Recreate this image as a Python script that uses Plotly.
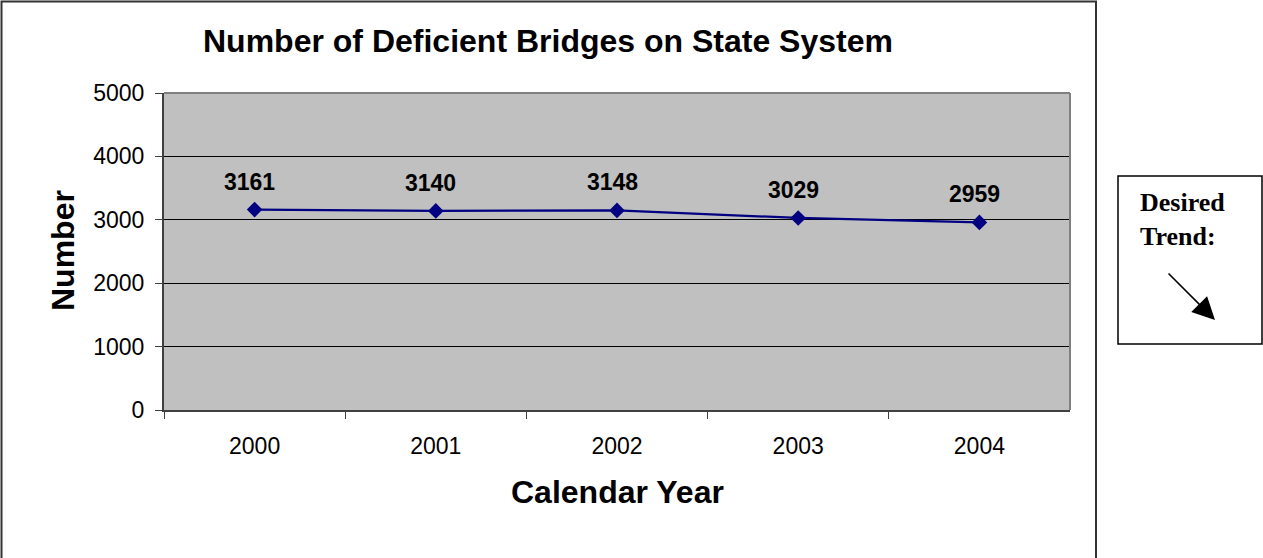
import plotly.graph_objects as go

# Deficient bridges on the state system, by calendar year
years = ["2000", "2001", "2002", "2003", "2004"]
bridges = [3161, 3140, 3148, 3029, 2959]
y_ticks = [0, 1000, 2000, 3000, 4000, 5000]

W, H = 1263, 558


def px(x):
    return x / W


def py(y):
    return 1 - y / H


fig = go.Figure()
fig.add_trace(go.Scatter(
    x=years, y=bridges, mode="lines+markers",
    line=dict(color="#000080", width=2.2),
    marker=dict(symbol="diamond", size=12, color="#000080"),
    showlegend=False, hoverinfo="x+y",
))

AX_FONT = "Liberation Sans, Arial"

# value labels above each point (category axis: x given as category index)
for i, v in enumerate(bridges):
    fig.add_annotation(
        x=i, y=v, xref="x", yref="y", text=f"<b>{v}</b>", showarrow=False,
        yshift=28, xshift=-5, font=dict(family=AX_FONT, size=23, color="black"),
    )

fig.update_layout(
    width=W, height=H, autosize=False,
    margin=dict(l=0, r=0, t=0, b=0, pad=0, autoexpand=False),
    paper_bgcolor="white", plot_bgcolor="#C0C0C0",
    xaxis=dict(
        domain=[px(164), px(1070)], type="category", range=[-0.5, 4.5],
        tickson="boundaries", ticks="outside", ticklen=7, tickcolor="#404040",
        showgrid=False, showline=True, linecolor="#404040", linewidth=2,
        tickfont=dict(family=AX_FONT, size=23, color="black"),
        ticklabelstandoff=14, zeroline=False, automargin=False,
    ),
    yaxis=dict(
        domain=[py(410), py(93)], range=[0, 5000], tickvals=y_ticks,
        ticks="outside", ticklen=7, tickcolor="#404040",
        showgrid=True, gridcolor="black", gridwidth=1,
        showline=True, linecolor="#404040", linewidth=2,
        tickfont=dict(family=AX_FONT, size=23, color="black"),
        ticklabelstandoff=6, zeroline=False, automargin=False,
    ),
)

shapes = [
    # top and right edges of the plot area
    dict(type="line", xref="paper", yref="paper", x0=px(164), x1=px(1070),
         y0=py(93), y1=py(93), line=dict(color="#808080", width=2), layer="above"),
    dict(type="line", xref="paper", yref="paper", x0=px(1070), x1=px(1070),
         y0=py(93), y1=py(410), line=dict(color="#808080", width=2), layer="above"),
    # outer chart frame
    dict(type="rect", xref="paper", yref="paper", x0=px(1.5), x1=px(1096),
         y0=py(562), y1=py(1.5), line=dict(color="#333333", width=2),
         fillcolor="rgba(0,0,0,0)", layer="above"),
    # "Desired Trend" box
    dict(type="rect", xref="paper", yref="paper", x0=px(1118), x1=px(1262),
         y0=py(344), y1=py(176), line=dict(color="black", width=1.5),
         fillcolor="white", layer="above"),
]
fig.update_layout(shapes=shapes)

# chart title and axis titles
fig.add_annotation(
    xref="paper", yref="paper", x=px(548), y=py(41), text="<b>Number of Deficient Bridges on State System</b>",
    showarrow=False, xanchor="center", yanchor="middle",
    font=dict(family=AX_FONT, size=32, color="black"),
)
fig.add_annotation(
    xref="paper", yref="paper", x=px(617), y=py(492), text="<b>Calendar Year</b>",
    showarrow=False, xanchor="center", yanchor="middle",
    font=dict(family=AX_FONT, size=32, color="black"),
)
fig.add_annotation(
    xref="paper", yref="paper", x=px(63), y=py(251), text="<b>Number</b>",
    showarrow=False, xanchor="center", yanchor="middle", textangle=-90,
    font=dict(family=AX_FONT, size=32, color="black"),
)

# desired trend note with downward arrow
fig.add_annotation(
    xref="paper", yref="paper", x=px(1138), y=py(186), text="<b>Desired<br>Trend:</b>",
    showarrow=False, xanchor="left", yanchor="top", align="left",
    font=dict(family="Liberation Serif, Times New Roman", size=26, color="black"),
)
fig.add_annotation(
    xref="paper", yref="paper", x=px(1215), y=py(320), text="",
    showarrow=True, axref="pixel", ayref="pixel", ax=-48, ay=-48,
    arrowhead=2, arrowsize=2.8, arrowwidth=1.6, arrowcolor="black", standoff=0,
)

fig.write_html("out.html")
